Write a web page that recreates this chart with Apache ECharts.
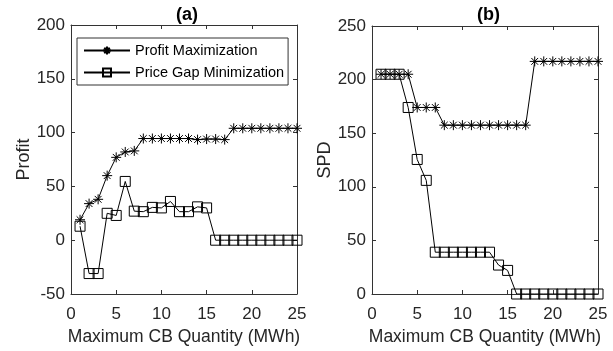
<!DOCTYPE html>
<html>
<head>
<meta charset="utf-8">
<script src="https://cdn.jsdelivr.net/npm/echarts@6/dist/echarts.min.js"></script>
<style>
  html, body {margin:0; padding:0; background:#fff;}
  #main {width:613px; height:351px;}
</style>
</head>
<body>
<div id="main"></div>
<script type="text/javascript">
// x values: maximum CB quantity (MWh)
var qty = [1,2,3,4,5,6,7,8,9,10,11,12,13,14,15,16,17,18,19,20,21,22,23,24,25];

// panel (a) profit
var profitMax = [19,34,38,60,77,82,83,94.5,94.5,94.5,94.5,94.5,94.5,93.5,94,94,93.5,104,104,104,104,104,104,104,104];
var profitGap = [13,-31,-31,25,23,54.6,27,26.5,30.5,30,36,26.5,26.5,31,30,0,0,0,0,0,0,0,0,0,0];

// panel (b) SPD
var spdMax = [205,205,205,205,174,174,174,157.5,157.5,157.5,157.5,157.5,157.5,157.5,157.5,157.5,157.5,217,217,217,217,217,217,217,217];
var spdGap = [205,205,205,174,125.5,106,39,39,39,39,39,39,39,27,22,0,0,0,0,0,0,0,0,0,0];

var xTicks = [0,25,5];      // min, max, interval
var yTicksA = [-50,200,50];
var yTicksB = [0,250,50];

function pairs(v) {
  return qty.map(function (q, i) { return [q, v[i]]; });
}

var star = 'path://M5 0 L5 10 M0 5 L10 5 M1.6 1.6 L8.4 8.4 M1.6 8.4 L8.4 1.6';
var axisCol = '#333';
var txtCol = '#262626';
var font = 'Liberation Sans, Arial, sans-serif';

function xAx(grid, pos, lab) {
  return {
    type:'value', gridIndex:grid, position:pos,
    min:xTicks[0], max:xTicks[1], interval:xTicks[2],
    name: lab ? 'Maximum CB Quantity (MWh)' : '', nameLocation:'middle', nameGap:34,
    nameTextStyle:{fontSize:17.5, color:txtCol, fontFamily:font},
    axisLine:{show:true, onZero:false, lineStyle:{color:axisCol}},
    axisTick:{show:true, inside:true, length:4, lineStyle:{color:axisCol}},
    axisLabel:{show:lab, fontSize:17, color:txtCol, margin:12, fontFamily:font},
    splitLine:{show:false}
  };
}
function yAx(grid, pos, t, name, lab) {
  return {
    type:'value', gridIndex:grid, position:pos,
    min:t[0], max:t[1], interval:t[2],
    name: lab ? name : '', nameLocation:'middle', nameGap:38,
    nameTextStyle:{fontSize:18, color:txtCol, fontFamily:font},
    axisLine:{show:true, onZero:false, lineStyle:{color:axisCol}},
    axisTick:{show:true, inside:true, length:4, lineStyle:{color:axisCol}},
    axisLabel:{show:lab, fontSize:17, color:txtCol, margin:6, fontFamily:font},
    splitLine:{show:false}
  };
}

function ser(name, x, y, data, sym) {
  return {
    name:name, type:'line', xAxisIndex:x, yAxisIndex:y, data:pairs(data),
    symbol: sym, symbolSize: 10, showSymbol:true, animation:false,
    lineStyle:{color:'#000', width:1},
    itemStyle:{color:'transparent', borderColor:'#000', borderWidth:1}
  };
}

var chart = echarts.init(document.getElementById('main'));
chart.setOption({
  backgroundColor:'#fff',
  title:[
    {text:'(a)', left:171, top:1, textStyle:{fontSize:18, fontWeight:'bold', color:'#000', fontFamily:font}},
    {text:'(b)', left:472, top:1, textStyle:{fontSize:18, fontWeight:'bold', color:'#000', fontFamily:font}}
  ],
  legend:{
    orient:'vertical', left:77, top:38,
    data:['Profit Maximization','Price Gap Minimization'],
    itemWidth:46, itemHeight:10, itemGap:7,
    padding:[5,4,5,6],
    borderColor:axisCol, borderWidth:1, backgroundColor:'#fff',
    textStyle:{fontSize:14.5, color:'#000', fontFamily:font}
  },
  grid:[
    {left:71, top:25, width:226, height:273},
    {left:372, top:26, width:226, height:273}
  ],
  xAxis:[xAx(0,'bottom',true), xAx(0,'top',false), xAx(1,'bottom',true), xAx(1,'top',false)],
  yAxis:[yAx(0,'left',yTicksA,'Profit',true), yAx(0,'right',yTicksA,'',false),
         yAx(1,'left',yTicksB,'SPD',true), yAx(1,'right',yTicksB,'',false)],
  series:[
    ser('Profit Maximization', 0, 0, profitMax, star),
    ser('Price Gap Minimization', 0, 0, profitGap, 'rect'),
    ser('Profit Maximization', 2, 2, spdMax, star),
    ser('Price Gap Minimization', 2, 2, spdGap, 'rect')
  ]
});
</script>
</body>
</html>
